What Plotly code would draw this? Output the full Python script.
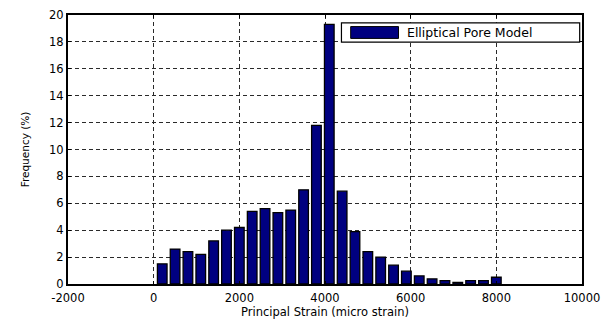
import plotly.graph_objects as go

# Histogram bin centres (micro strain) and frequency of each bin (%)
strain_centers = [200, 500, 800, 1100, 1400, 1700, 2000, 2300, 2600, 2900,
                  3200, 3500, 3800, 4100, 4400, 4700, 5000, 5300, 5600, 5900,
                  6200, 6500, 6800, 7100, 7400, 7700, 8000]
frequency = [1.5, 2.6, 2.4, 2.2, 3.2, 4.0, 4.2, 5.4, 5.6, 5.3,
             5.5, 7.0, 11.8, 19.3, 6.9, 3.9, 2.4, 2.0, 1.4, 0.95,
             0.6, 0.38, 0.25, 0.12, 0.25, 0.25, 0.5]

series_name = "Elliptical Pore Model"
x_ticks = [-2000, 0, 2000, 4000, 6000, 8000, 10000]
y_ticks = [0, 2, 4, 6, 8, 10, 12, 14, 16, 18, 20]

FONT = "DejaVu Sans"
BAR_COLOR = "#000080"

fig = go.Figure()
fig.add_trace(go.Bar(
    x=strain_centers,
    y=frequency,
    name=series_name,
    showlegend=False,
    marker=dict(color=BAR_COLOR, line=dict(color="black", width=1.3)),
))

axis_common = dict(
    showline=True, linecolor="black", linewidth=2, mirror="allticks",
    ticks="inside", ticklen=3, tickcolor="black",
    showgrid=True, gridcolor="#2a2a2a", gridwidth=1, griddash="4px,3px",
    zeroline=False,
    tickfont=dict(family=FONT, size=11.5, color="black"),
)

fig.update_xaxes(
    range=[-2000, 10000], tickvals=x_ticks,
    ticktext=[str(v) for v in x_ticks],
    ticklabelstandoff=2,
    title=dict(text="Principal Strain (micro strain)",
               font=dict(family=FONT, size=11.5, color="black"), standoff=4),
    **axis_common,
)
fig.update_yaxes(
    range=[0, 20], tickvals=y_ticks,
    title=dict(text="Frequency (%)",
               font=dict(family=FONT, size=10.5, color="black"), standoff=17),
    **axis_common,
)

# Legend box drawn in axis-domain coordinates
fig.add_shape(type="rect", xref="x domain", yref="y domain",
              x0=0.532, x1=0.9955, y0=0.899, y1=0.971,
              line=dict(color="black", width=1.2), fillcolor="white", layer="above")
fig.add_shape(type="rect", xref="x domain", yref="y domain",
              x0=0.550, x1=0.643, y0=0.913, y1=0.957,
              line=dict(color="black", width=1), fillcolor=BAR_COLOR, layer="above")
fig.add_annotation(xref="x domain", yref="y domain", x=0.655, y=0.935,
                   text=series_name, showarrow=False, xanchor="left", yanchor="middle",
                   font=dict(family=FONT, size=12.5, color="black"))

fig.update_layout(
    width=610, height=328,
    margin=dict(l=68, r=28, t=8, b=44),
    paper_bgcolor="white", plot_bgcolor="white",
    bargap=0.25,
)

fig.write_html("out.html")
